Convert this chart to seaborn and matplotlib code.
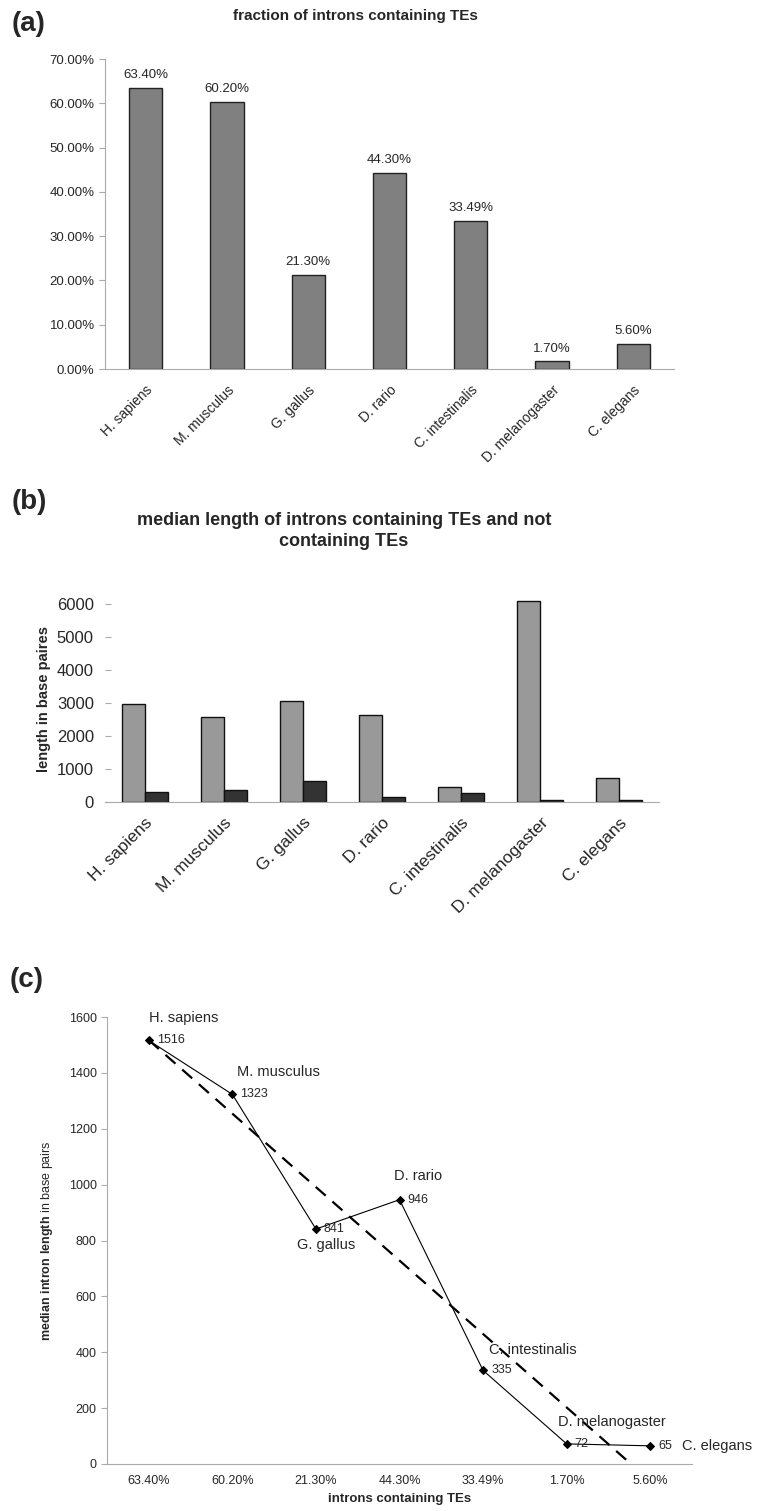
import numpy as np
import pandas as pd
import seaborn as sns
import matplotlib.pyplot as plt
from matplotlib import ticker

species = ['H. sapiens', 'M. musculus', 'G. gallus', 'D. rario',
           'C. intestinalis', 'D. melanogaster', 'C. elegans']
frac_te = [63.40, 60.20, 21.30, 44.30, 33.49, 1.70, 5.60]
len_with_te = [2975, 2580, 3055, 2640, 465, 6080, 715]
len_without_te = [310, 355, 625, 150, 280, 60, 60]
median_len = [1516, 1323, 841, 946, 335, 72, 65]
pct_labels = [f'{v:.2f}%' for v in frac_te]

sns.set_style('white')
plt.rcParams['font.family'] = ['Liberation Sans', 'DejaVu Sans']
plt.rcParams['mathtext.fontset'] = 'custom'
plt.rcParams['mathtext.bf'] = 'Liberation Sans:bold'
plt.rcParams['mathtext.rm'] = 'Liberation Sans'

fig = plt.figure(figsize=(7.59, 15.11), dpi=100)
W, H = 759, 1511


def axes_px(left, right, top, bottom):
    return fig.add_axes([left / W, 1 - bottom / H, (right - left) / W, (bottom - top) / H])


def boundary_ticks(ax, n, color='#999999'):
    ax.set_xticks(np.arange(-0.5, n), minor=True)
    ax.tick_params(axis='x', which='major', length=0)
    ax.tick_params(axis='x', which='minor', length=4, color=color, width=0.8, direction='out')
    ax.set_xlim(-0.5, n - 0.5)


grey = '#aaaaaa'

# ---------------- (a) ----------------
ax_a = axes_px(105, 674, 59, 369)
sns.barplot(x=species, y=frac_te, color='#808080', edgecolor='#222222', linewidth=1.0,
            width=0.41, saturation=1, ax=ax_a)
ax_a.bar_label(ax_a.containers[0], labels=pct_labels, padding=5, fontsize=9.5)
ax_a.set_ylim(0, 70)
ax_a.set_yticks(np.arange(0, 71, 10))
ax_a.yaxis.set_major_formatter(ticker.StrMethodFormatter('{x:.2f}%'))
ax_a.tick_params(axis='y', labelsize=9.5, length=4, color=grey, direction='out', left=True)
boundary_ticks(ax_a, len(species), grey)
ax_a.set_xticks(range(len(species)))
ax_a.set_xticklabels(species, rotation=45, ha='right', rotation_mode='anchor', fontsize=10)
for lab in ax_a.get_xticklabels():
    lab.set_y(-0.03)
sns.despine(ax=ax_a)
for s in ['left', 'bottom']:
    ax_a.spines[s].set_color(grey)
ax_a.set_xlabel('')
fig.text(355 / W, 1 - 16 / H, 'fraction of introns containing TEs', ha='center', va='center',
         fontsize=11, fontweight='bold')
fig.text(12 / W, 1 - 24 / H, '(a)', ha='left', va='center', fontsize=20, fontweight='bold')

# ---------------- (b) ----------------
ax_b = axes_px(105, 659, 597, 802)
df_b = pd.DataFrame({
    'species': species * 2,
    'length': len_with_te + len_without_te,
    'group': ['containing TEs'] * len(species) + ['not containing TEs'] * len(species),
})
sns.barplot(data=df_b, x='species', y='length', hue='group',
            palette=['#999999', '#333333'], edgecolor='#111111', linewidth=1.0,
            width=0.58, saturation=1, legend=False, ax=ax_b)
ax_b.set_ylim(0, 6200)
ax_b.set_yticks(np.arange(0, 6001, 1000))
ax_b.tick_params(axis='y', labelsize=12, length=4, color=grey, direction='in', left=True, pad=8)
boundary_ticks(ax_b, len(species), grey)
ax_b.set_xticks(range(len(species)))
ax_b.set_xticklabels(species, rotation=45, ha='right', rotation_mode='anchor', fontsize=12.5)
for lab in ax_b.get_xticklabels():
    lab.set_y(-0.04)
sns.despine(ax=ax_b, left=True)
ax_b.spines['bottom'].set_color(grey)
ax_b.set_xlabel('')
ax_b.set_ylabel('length in base paires', fontsize=10.5, fontweight='bold', labelpad=4)
fig.text(344 / W, 1 - 531 / H,
         'median length of introns containing TEs and not\ncontaining TEs',
         ha='center', va='center', fontsize=13, fontweight='bold', linespacing=1.3)
fig.text(12 / W, 1 - 502 / H, '(b)', ha='left', va='center', fontsize=20, fontweight='bold')

# ---------------- (c) ----------------
ax_c = axes_px(107, 692, 1017, 1464)
pos = np.arange(len(species))
sns.regplot(x=pos, y=median_len, scatter=False, ci=None, truncate=True, ax=ax_c,
            line_kws=dict(color='black', lw=1.6, ls=(0, (6, 4))))
sns.lineplot(x=pos, y=median_len, color='black', lw=0.8, marker='D', markersize=4,
             markeredgecolor='black', ax=ax_c)
ax_c.set_ylim(0, 1600)
ax_c.set_yticks(np.arange(0, 1601, 200))
ax_c.tick_params(axis='y', labelsize=9, length=4, color=grey, direction='out', left=True)
boundary_ticks(ax_c, len(species), grey)
ax_c.set_xticks(pos)
ax_c.set_xticklabels(pct_labels, fontsize=9)
ax_c.tick_params(axis='x', which='major', pad=8)
sns.despine(ax=ax_c)
for s in ['left', 'bottom']:
    ax_c.spines[s].set_color(grey)
ax_c.set_xlabel('introns containing TEs', fontsize=9.5, fontweight='bold', labelpad=4)
ax_c.set_ylabel(r'$\mathbf{median\ intron\ length}$ in base pairs', fontsize=9, labelpad=10)

name_offsets = [(0, 22, 'left'), (5, 22, 'left'), (10, -16, 'center'), (-5, 24, 'left'),
                (6, 20, 'left'), (-9, 22, 'left'), (32, 0, 'left')]
for i, (name, val) in enumerate(zip(species, median_len)):
    ax_c.annotate(str(val), (i, val), xytext=(8, 0), textcoords='offset pixels',
                  ha='left', va='center', fontsize=9)
    dx, dy, ha = name_offsets[i]
    ax_c.annotate(name, (i, val), xytext=(dx, dy), textcoords='offset pixels',
                  ha=ha, va='center', fontsize=10.5, annotation_clip=False)
fig.text(10 / W, 1 - 980 / H, '(c)', ha='left', va='center', fontsize=20, fontweight='bold')

fig.savefig('out.png', dpi=100)
